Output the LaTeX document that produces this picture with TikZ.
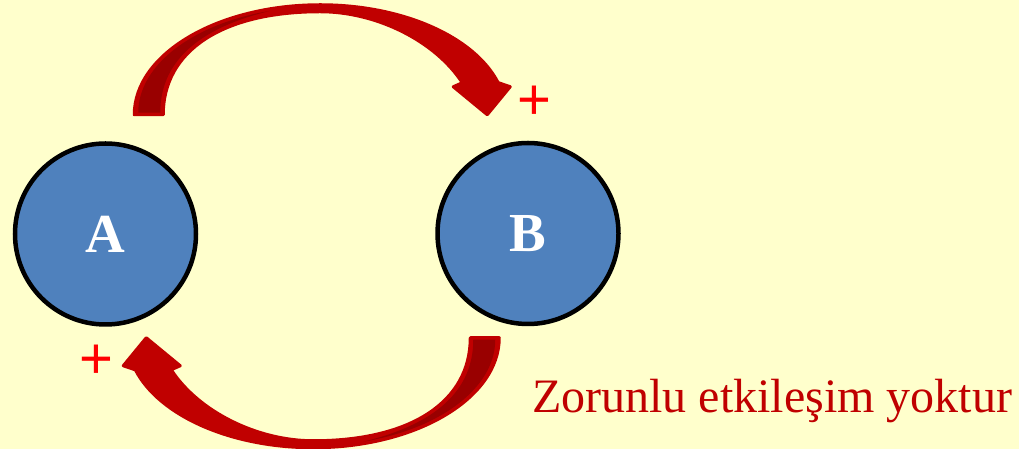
\documentclass[tikz,border=0pt]{standalone}
\usepackage{fontspec}
\setmainfont{Liberation Serif}
\newfontfamily\artifont{Liberation Sans}
\usetikzlibrary{calc}
\definecolor{zemin}{HTML}{FFFFCC}
\definecolor{turmavi}{HTML}{4F81BD}
\definecolor{okkirmizi}{HTML}{C00000}
\definecolor{okkoyu}{HTML}{990000}
\definecolor{artikirmizi}{HTML}{FF0000}

\begin{document}
\begin{tikzpicture}[
    x=1pt,y=1pt,
    tur/.style      = {circle, draw=black, fill=turmavi, line width=4.5pt,
                       minimum size=181pt, inner sep=0pt, text=white,
                       font=\fontsize{55}{60}\selectfont\bfseries},
    arti/.style     = {text=artikirmizi, inner sep=0pt,
                       font=\artifont\fontsize{58}{60}\selectfont},
    aciklama/.style = {text=okkirmizi, inner sep=0pt, anchor=base west,
                       font=\fontsize{48}{56}\selectfont},
  ]

  \tikzset{egriok/.pic={
      \filldraw[okkirmizi,line width=3pt,line join=round]
        (-182.5,111.5) arc[start angle=180,end angle=17,x radius=186,y radius=110]
        -- (193.5,139.5) -- (170.5,111.5) -- (136.5,139.5) -- (145.5,143.5)
        .. controls (118.5,185) and (60,214.5) .. (3.5,214.5)
        .. controls (-95,214.5) and (-153.5,175) .. (-153.5,111.5) -- cycle;
      \fill[okkoyu]
        (-178.5,113.5) arc[start angle=180,end angle=106,x radius=182,y radius=106]
        .. controls (-110,200) and (-156.5,170) .. (-156.5,113.5) -- cycle;}}

  % ── Zemin ───────────────────────────────────────────────────────────────
  \fill[zemin] (0,0) rectangle (1019,449);
  \useasboundingbox (0,0) rectangle (1019,449);

  % ── Türler ──────────────────────────────────────────────────────────────
  \node[tur] (A) at (105.5,215) {A};
  \node[tur] (B) at (528,215.5) {B};

  % ── Eğri oklar ──────────────────────────────────────────────────────────
  \coordinate (orta) at ($(A)!0.5!(B)+(0,7.5)$);
  \pic at (orta) {egriok};
  \pic[rotate=180] at (orta) {egriok};

  % ── Etki işaretleri ve açıklama ─────────────────────────────────────────
  \node[arti] (artiB) at (534,346) {+};
  \node[arti] (artiA) at (96,87) {+};
  \node[aciklama] (yok) at (532,36) {Zorunlu etkileşim yoktur};

\end{tikzpicture}
\end{document}
